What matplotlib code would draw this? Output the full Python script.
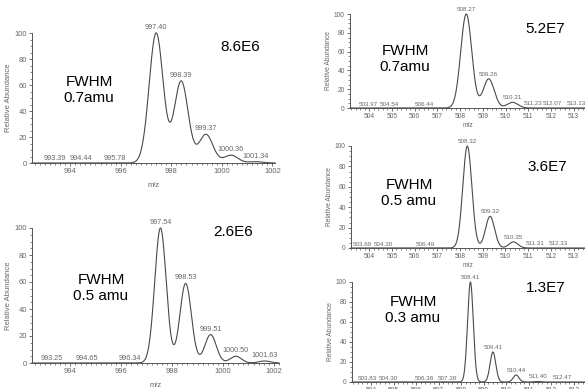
import numpy as np
import matplotlib.pyplot as plt
from matplotlib.ticker import MultipleLocator

plt.rcParams['font.family'] = ['Liberation Sans', 'DejaVu Sans']

# left top, m/z ~997
a_mz = [997.40, 998.39, 999.37, 1000.36, 1001.34]
a_int = [100, 63, 22, 6, 1]
a_small = [993.39, 994.44, 995.78]
a_fwhm = 0.65
a_text = ['8.6E6', 'FWHM\n0.7amu']

# left bottom
b_mz = [997.54, 998.53, 999.51, 1000.50, 1001.63]
b_int = [100, 59, 21, 5, 1.5]
b_small = [993.25, 994.65, 996.34]
b_fwhm = 0.53
b_text = ['2.6E6', 'FWHM\n0.5 amu']

# right top, m/z ~508
c_mz = [508.27, 509.26, 510.31, 511.23, 512.07, 513.13]
c_int = [100, 31, 6, 0, 0, 0]
c_small = [503.97, 504.54, 506.44]
c_fwhm = 0.57
c_text = ['5.2E7', 'FWHM\n0.7amu']

# right middle
d_mz = [508.32, 509.32, 510.35, 511.31, 512.33]
d_int = [100, 31, 6, 0, 0]
d_small = [503.69, 504.30, 506.49]
d_fwhm = 0.47
d_text = ['3.6E7', 'FWHM\n0.5 amu']

# right bottom
e_mz = [508.41, 509.41, 510.44, 511.40, 512.47]
e_int = [100, 30, 7, 0.5, 0]
e_small = [503.83, 504.30, 506.38, 507.38]
e_fwhm = 0.30
e_text = ['1.3E7', 'FWHM\n0.3 amu']

W, H = 585.0, 389.0
grey = '#666666'
narrow = ['Liberation Sans Narrow', 'Liberation Sans', 'DejaVu Sans']


def spectrum(x, mz, inten, fwhm):
    y = np.zeros_like(x)
    for c, h in zip(mz, inten):
        y += h * np.exp(-4 * np.log(2) * (x - c) ** 2 / fwhm ** 2)
    return y


def drawPanel(fig, box, mz, inten, small, fwhm, xlim, major, texts, tpos, fs):
    # box in pixels: left, top(100), right, bottom(0)
    l, t, r, b = box
    ax = fig.add_axes([l / W, 1 - b / H, (r - l) / W, (b - t) / H])
    x = np.linspace(xlim[0], xlim[1], 4000)
    y = spectrum(x, mz, inten, fwhm)
    ax.plot(x, y, color='#4a4a4a', lw=0.8, clip_on=False)
    ax.set_xlim(xlim)
    ax.set_ylim(0, 100)
    rend = fig.canvas.get_renderer()
    last = -1e9
    for c in small:
        an = ax.annotate('%.2f' % c, (c, 0), xytext=(0, 1.2),
                         textcoords='offset pixels', ha='center', va='bottom',
                         fontsize=fs, color=grey, family=narrow)
        bb = an.get_window_extent(rend)
        # nudge right if it runs into the previous label
        if bb.x0 < last + 1.5:
            dx = last + 1.5 - bb.x0
            an.set_position((dx, 1.2))
            bb = an.get_window_extent(rend)
        last = bb.x1
    for c, h in zip(mz, inten):
        top = spectrum(np.array([c]), mz, inten, fwhm)[0]
        ax.annotate('%.2f' % c, (c, top), xytext=(0, 1.5), textcoords='offset points',
                    ha='center', va='bottom', fontsize=fs, color=grey,
                    family=narrow, annotation_clip=False)
    for s in ['top', 'right']:
        ax.spines[s].set_visible(False)
    for s in ['left', 'bottom']:
        ax.spines[s].set_color('#555555')
        ax.spines[s].set_linewidth(0.7)
    ax.xaxis.set_major_locator(MultipleLocator(major))
    ax.xaxis.set_minor_locator(MultipleLocator(0.2))
    ax.yaxis.set_major_locator(MultipleLocator(20))
    ax.yaxis.set_minor_locator(MultipleLocator(5))
    ax.tick_params(which='major', length=2.5, width=0.6, color='#555555',
                   labelsize=fs + 0.3, labelcolor=grey, pad=1.2)
    ax.tick_params(which='minor', length=1.3, width=0.5, color='#555555')
    for lab in ax.get_xticklabels() + ax.get_yticklabels():
        lab.set_family(narrow)
    pad = 5 if fs > 4.8 else 1
    ax.set_xlabel('m/z', fontsize=fs + 0.3, color=grey, labelpad=pad, family=narrow)
    ax.set_ylabel('Relative Abundance', fontsize=fs + 0.3, color=grey, labelpad=1.5)
    fig.text(tpos[0][0] / W, 1 - tpos[0][1] / H, texts[0], fontsize=11,
             ha='center', va='center')
    fig.text(tpos[1][0] / W, 1 - tpos[1][1] / H, texts[1], fontsize=11,
             ha='center', va='center', linespacing=1.15)
    return ax


def main():
    fig = plt.figure(figsize=(5.85, 3.89), dpi=100)
    drawPanel(fig, (32, 33, 275, 163), a_mz, a_int, a_small, a_fwhm,
              (992.49, 1002.1), 2, a_text, [(240, 47), (89, 90)], 5.2)
    drawPanel(fig, (32, 228, 279, 363), b_mz, b_int, b_small, b_fwhm,
              (992.49, 1002.2), 2, b_text, [(233, 232), (101, 288)], 5.2)
    drawPanel(fig, (350, 14, 585, 108), c_mz, c_int, c_small, c_fwhm,
              (503.15, 513.5), 1, c_text, [(545, 29), (405, 59)], 4.5)
    drawPanel(fig, (351, 146, 585, 248), d_mz, d_int, d_small, d_fwhm,
              (503.2, 513.5), 1, d_text, [(547, 167), (409, 193)], 4.5)
    drawPanel(fig, (352, 282, 585, 382), e_mz, e_int, e_small, e_fwhm,
              (503.15, 513.5), 1, e_text, [(546, 288), (413, 310)], 4.5)
    fig.savefig('out.png', dpi=100)

main()
